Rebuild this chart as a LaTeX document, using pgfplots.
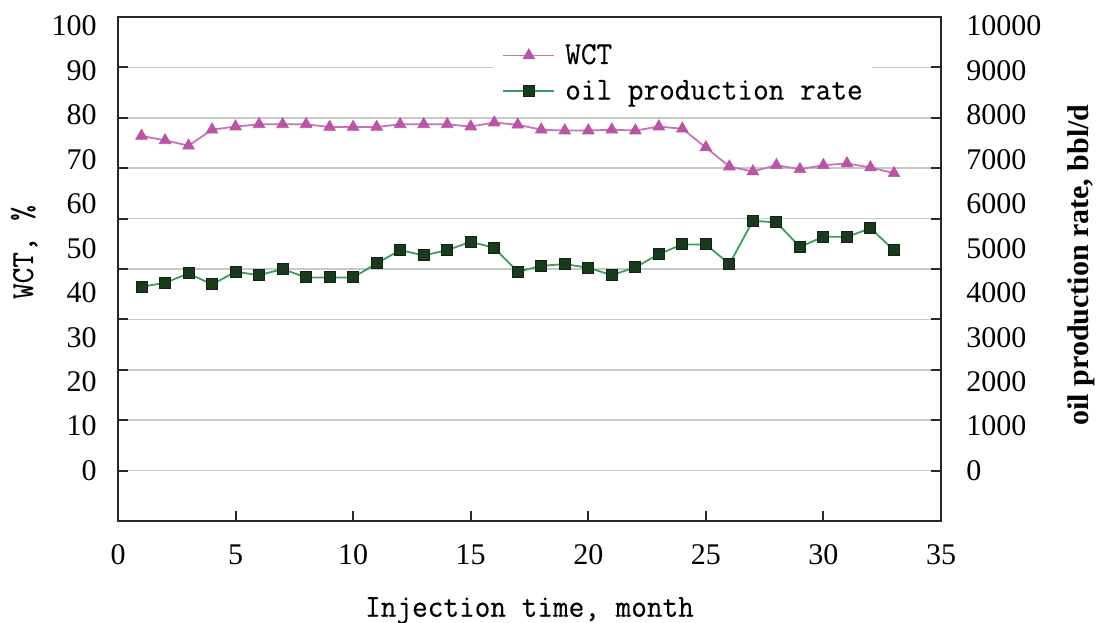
\documentclass[border=0pt]{standalone}
\usepackage{fontspec}
\setmainfont{Liberation Serif}
\newfontfamily\monof{Latin Modern Mono}[FakeStretch=0.95,FakeBold=0.3]
\usepackage{pgfplots}
\pgfplotsset{compat=1.18}

\definecolor{wctline}{RGB}{200,115,185}
\definecolor{wctmark}{RGB}{185,85,165}
\definecolor{oilline}{RGB}{65,155,95}
\definecolor{oilfill}{RGB}{26,58,30}
\definecolor{oildraw}{RGB}{14,36,16}
\definecolor{gridc}{RGB}{200,200,200}
\definecolor{framec}{RGB}{40,40,40}

\pgfplotsset{
  base/.style={scale only axis, width=411.5pt, height=252pt, xmin=0, xmax=35,
    /pgf/number format/assume math mode=true,
    tick label style={font=\fontsize{15}{18}\selectfont}},
  wct/.style={color=wctline, line width=0.9pt, mark=triangle*, mark size=3.4pt,
    mark options={solid, fill=wctmark, draw=wctmark, line width=0.3pt}},
  oil/.style={color=oilline, line width=0.9pt, mark=square*, mark size=2.75pt,
    mark options={solid, fill=oilfill, draw=oildraw, line width=0.5pt}},
}

\begin{document}
\begin{tikzpicture}
\path[use as bounding box] (-59pt,-50.5pt) rectangle (489pt,260.5pt);

% frame, grid, ticks, WCT series
\begin{axis}[base, ymin=-11.339, ymax=102.05,
  ytick={0,11.339,22.678,34.017,45.356,56.695,68.034,79.373,90.712},
  yticklabels={}, ytick pos=both,
  xtick={0,5,...,35}, xtick pos=bottom,
  tick align=inside, major tick length=5pt,
  ymajorgrids, grid style={gridc, line width=0.8pt},
  axis line style={framec, line width=1pt},
  tick style={framec, line width=1pt},
  xticklabel style={anchor=north, inner sep=0pt, yshift=-11.5pt},
  xlabel={Injection time, month},
  xlabel style={at={(axis description cs:0.5,0)}, anchor=base, yshift=-47.85pt,
    font=\fontsize{16}{19}\selectfont\monof},
]
\addplot[wct] coordinates {
(1,75.3) (2,74.3) (3,73.1) (4,76.7) (5,77.4) (6,77.9) (7,77.9) (8,77.9)
(9,77.3) (10,77.3) (11,77.3) (12,77.9) (13,77.9) (14,77.9) (15,77.4) (16,78.3)
(17,77.8) (18,76.7) (19,76.5) (20,76.5) (21,76.7) (22,76.5) (23,77.4) (24,76.9)
(25,72.7) (26,68.4) (27,67.3) (28,68.7) (29,67.8) (30,68.7) (31,69.1) (32,68.2)
(33,66.9)};
\end{axis}

% left labels
\begin{axis}[base, ymin=-11.339, ymax=102.05,
  axis line style={draw=none}, xtick=\empty,
  ytick={0,10,20,30,40,50,60,70,80,90,100},
  yticklabels={0,10,20,30,40,50,60,70,80,90,100},
  ytick pos=left, major tick length=0pt,
  yticklabel style={anchor=east, inner sep=0pt, xshift=-10.5pt},
  ylabel={WCT, \%},
  ylabel style={at={(axis description cs:-0.10328,0.5337)}, anchor=base,
    font=\fontsize{16}{19}\selectfont\monof},
]
\end{axis}

% oil production rate, right axis, legend
\begin{axis}[base, ymin=-1133.9, ymax=10205,
  axis line style={draw=none}, xtick=\empty,
  ytick={0,1000,2000,3000,4000,5000,6000,7000,8000,9000,10000},
  yticklabels={0,1000,2000,3000,4000,5000,6000,7000,8000,9000,10000},
  ytick pos=right, yticklabel pos=right, major tick length=0pt,
  scaled y ticks=false,
  yticklabel style={anchor=west, inner sep=0pt, xshift=12.5pt},
  ylabel={oil production rate, bbl/d},
  ylabel style={at={(axis description cs:1.1798,0.508)}, anchor=base,
    font=\fontsize{15}{18}\selectfont\bfseries},
  legend image code/.code={\draw[mark repeat=2,mark phase=2,#1]
    plot coordinates {(0pt,0pt) (12.75pt,0pt) (25.5pt,0pt)};},
  legend cell align=left,
  legend style={at={(axis description cs:0.4557,0.959)}, anchor=north west,
    draw=none, fill=white, inner xsep=4.5pt, inner ysep=3pt,
    row sep=6.5pt, column sep=5pt,
    nodes={inner sep=0pt},
    font=\fontsize{16}{19}\selectfont\monof},
]
\addlegendimage{wct}
\addlegendentry{WCT}
\addplot[oil] coordinates {
(1,4135) (2,4225) (3,4436) (4,4189) (5,4472) (6,4398) (7,4533) (8,4346)
(9,4346) (10,4346) (11,4661) (12,4961) (13,4841) (14,4961) (15,5147) (16,5012)
(17,4472) (18,4607) (19,4646) (20,4562) (21,4398) (22,4571) (23,4871) (24,5089)
(25,5089) (26,4646) (27,5620) (28,5584) (29,5035) (30,5260) (31,5260) (32,5449)
(33,4961)};
\addlegendentry{oil production rate}
\end{axis}
\end{tikzpicture}
\end{document}
